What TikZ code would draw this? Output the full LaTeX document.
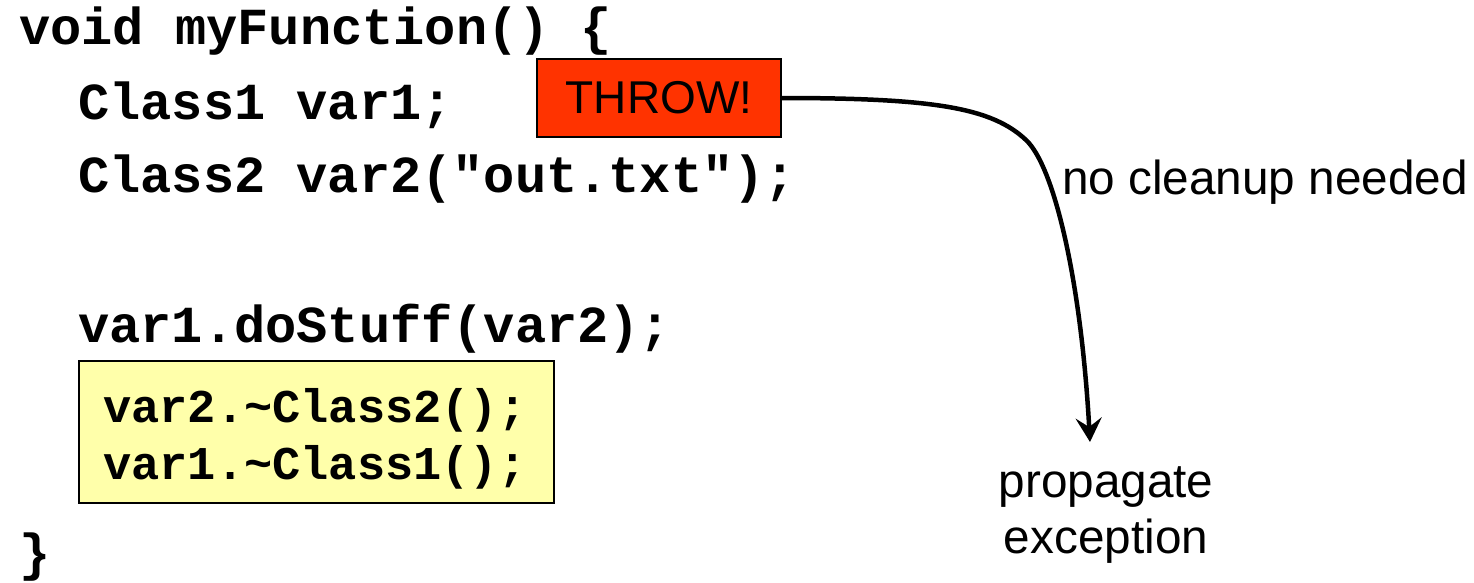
\documentclass[tikz,border=0pt]{standalone}
\usepackage{fontspec}
\setmainfont{Liberation Sans}
\newfontfamily\codefont{Liberation Mono}
\usetikzlibrary{arrows.meta}
\definecolor{throwred}{HTML}{FF3300}
\definecolor{dtoryellow}{HTML}{FFFFAA}
\tikzset{
  code/.style={anchor=base west, inner sep=0pt, font=\codefont\bfseries\fontsize{52}{52}\selectfont},
  dtorcode/.style={anchor=base west, inner sep=0pt, font=\codefont\bfseries\fontsize{47}{47}\selectfont},
  label/.style={inner sep=0pt, font=\fontsize{47.7}{56}\selectfont},
  throwbox/.style={draw=black, line width=1.5pt, fill=throwred, inner sep=0pt,
    minimum width=244pt, minimum height=78pt, font=\fontsize{46}{46}\selectfont},
  dtorbox/.style={draw=black, line width=1.5pt, fill=dtoryellow, inner sep=0pt,
    minimum width=475pt, minimum height=142pt, anchor=north west},
  flow/.style={line width=4.5pt, -{Stealth[length=24pt,width=26pt,inset=9pt]}}
}
\begin{document}
\begin{tikzpicture}[x=1pt, y=-1pt]
  \useasboundingbox (0,0) rectangle (1474,582);

  % function body
  \node[code] (l1) at (19,44)  {void myFunction() \{};
  \node[code] (l2) at (78,119) {Class1 var1;};
  \node[code] (l3) at (78,192) {Class2 var2("out.txt");};
  \node[code] (l4) at (78,342) {var1.doStuff(var2);};

  % implicit destructor calls
  \node[dtorbox] (dtor) at (78,360) {};
  \node[dtorcode] (d1) at (103,422) {var2.{\char`\~}Class2();};
  \node[dtorcode] (d2) at (103,479) {var1.{\char`\~}Class1();};

  \node[code] (close) at (19,570) {\}};

  % the exception and where it goes
  \node[throwbox] (throw) at (659,98) {THROW!};
  \coordinate (tip) at (1090,442);
  \draw[flow] (throw.east) .. controls (935,98) and (992,108) .. (1026,140)
                           .. controls (1054,166) and (1081,280) .. (tip);

  \node[label, anchor=base west] (nocleanup) at (1062,194) {no cleanup needed};
  \node[label, anchor=base] (prop1) at (1106,497) {propagate};
  \node[label, anchor=base] (prop2) at (1106,553) {exception};
\end{tikzpicture}
\end{document}
